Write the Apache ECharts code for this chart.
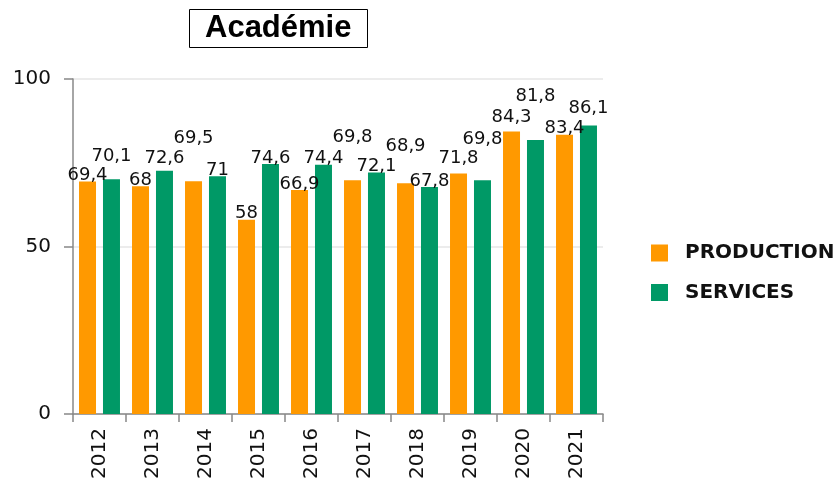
<!DOCTYPE html>
<html>
<head>
<meta charset="utf-8">
<script src="https://cdn.jsdelivr.net/npm/echarts@6/dist/echarts.min.js"></script>
<style>
  html, body { margin: 0; padding: 0; background: #fff; }
  #chart { width: 837px; height: 482px; }
</style>
</head>
<body>
<div id="chart"></div>
<script>
// Years on the category axis
const years = ['2012', '2013', '2014', '2015', '2016', '2017', '2018', '2019', '2020', '2021'];

// Index values per sector
const production = [69.4, 68, 69.5, 58, 66.9, 69.8, 68.9, 71.8, 84.3, 83.4];
const services = [70.1, 72.6, 71, 74.6, 74.4, 72.1, 67.8, 69.8, 81.8, 86.1];

// Extra upward shift (px) of each value label so neighbouring labels do not collide
const productionLabelLift = [0, 0, 37, 0, 0, 37, 31, 9, 8, 0];
const servicesLabelLift = [17, 6, 0, 0, 0, 0, 0, 35, 38, 11];

const yTicks = { min: 0, max: 100, interval: 50 };

const fmt = v => String(v).replace('.', ',');

function buildData(values, lifts) {
  return values.map((v, i) => ({
    value: v,
    label: { offset: [0, -lifts[i]] }
  }));
}

const chart = echarts.init(document.getElementById('chart'), null, { renderer: 'canvas' });

const labelStyle = {
  show: true,
  position: 'top',
  distance: -3,
  fontFamily: 'DejaVu Sans',
  fontSize: 18,
  color: '#111',
  formatter: p => fmt(p.value)
};

chart.setOption({
  animation: false,
  backgroundColor: '#fff',
  title: {
    text: 'Académie',
    left: 189,
    top: 9,
    padding: [4, 16, 4, 16],
    borderColor: '#000',
    borderWidth: 1,
    textStyle: {
      fontFamily: 'Liberation Sans',
      fontWeight: 'bold',
      fontSize: 31,
      color: '#000'
    }
  },
  legend: {
    orient: 'vertical',
    left: 646,
    top: 238,
    itemWidth: 17,
    itemHeight: 17,
    itemGap: 19.5,
    icon: 'rect',
    textStyle: {
      fontFamily: 'DejaVu Sans',
      fontWeight: 'bold',
      fontSize: 20,
      color: '#111',
      padding: [0, 0, 0, 12]
    },
    data: ['PRODUCTION', 'SERVICES']
  },
  grid: {
    left: 73,
    right: 234,
    top: 79,
    bottom: 64,
    containLabel: false
  },
  xAxis: {
    type: 'category',
    data: years,
    axisLine: { lineStyle: { color: '#888', width: 1.5 } },
    axisTick: { show: true, length: 8, lineStyle: { color: '#888', width: 1.5 } },
    axisLabel: {
      rotate: 90,
      margin: 14,
      fontFamily: 'DejaVu Sans',
      fontSize: 20,
      color: '#111'
    }
  },
  yAxis: {
    type: 'value',
    min: yTicks.min,
    max: yTicks.max,
    interval: yTicks.interval,
    axisLine: { show: true, lineStyle: { color: '#888', width: 1.5 } },
    axisTick: { show: true, length: 9, lineStyle: { color: '#888', width: 1.5 } },
    splitLine: { lineStyle: { color: '#e6e6e6', width: 1.5 } },
    axisLabel: {
      margin: 22,
      fontFamily: 'DejaVu Sans',
      fontSize: 20,
      color: '#111'
    }
  },
  series: [
    {
      name: 'PRODUCTION',
      type: 'bar',
      barWidth: 17,
      barGap: '41%',
      itemStyle: { color: '#FF9900' },
      label: labelStyle,
      data: buildData(production, productionLabelLift)
    },
    {
      name: 'SERVICES',
      type: 'bar',
      barWidth: 17,
      barGap: '41%',
      itemStyle: { color: '#009966' },
      label: labelStyle,
      data: buildData(services, servicesLabelLift)
    }
  ]
});
</script>
</body>
</html>
